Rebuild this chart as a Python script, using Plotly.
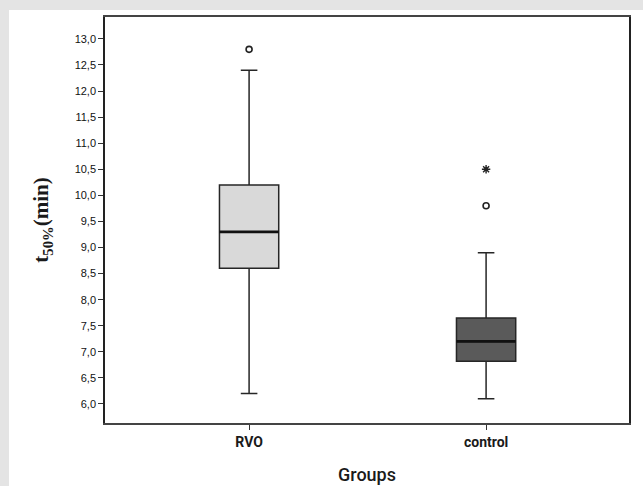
import plotly.graph_objects as go

# ---- data ----
groups = ["RVO", "control"]
q1 = [8.6, 6.82]
median = [9.3, 7.2]
q3 = [10.2, 7.65]
lower_whisker = [6.2, 6.1]
upper_whisker = [12.4, 8.9]
outlier_groups = ["RVO", "control"]      # circles
outlier_values = [12.8, 9.8]
extreme_groups = ["control"]             # asterisks
extreme_values = [10.5]
y_ticks = [6.0, 6.5, 7.0, 7.5, 8.0, 8.5, 9.0, 9.5, 10.0, 10.5, 11.0, 11.5, 12.0, 12.5, 13.0]
box_colors = ["#d9d9d9", "#5a5a5a"]

pos = {g: i + 1 for i, g in enumerate(groups)}
box_w = 0.25

fig = go.Figure()

for i, g in enumerate(groups):
    fig.add_trace(go.Box(
        x=[pos[g]], q1=[q1[i]], median=[median[i]], q3=[q3[i]],
        lowerfence=[lower_whisker[i]], upperfence=[upper_whisker[i]],
        width=box_w, whiskerwidth=0.28, boxpoints=False,
        fillcolor=box_colors[i], line=dict(color="#262626", width=1.5),
        showlegend=False, hoverinfo="skip",
    ))
    # thicker median line
    fig.add_trace(go.Scatter(
        x=[pos[g] - box_w / 2, pos[g] + box_w / 2], y=[median[i], median[i]],
        mode="lines", line=dict(color="#111111", width=2.6),
        showlegend=False, hoverinfo="skip",
    ))

fig.add_trace(go.Scatter(
    x=[pos[g] for g in outlier_groups], y=outlier_values, mode="markers",
    marker=dict(symbol="circle-open", size=6, color="#222222", line=dict(width=1.6)),
    showlegend=False, hoverinfo="skip",
))
fig.add_trace(go.Scatter(
    x=[pos[g] for g in extreme_groups], y=extreme_values, mode="markers",
    marker=dict(symbol="asterisk-open", size=7, color="#222222", line=dict(width=1.4)),
    showlegend=False, hoverinfo="skip",
))

W, H = 643, 486
ml, mr, mt, mb = 105, 14, 17, 63
pw, ph = W - ml - mr, H - mt - mb

# white card on a light grey page
fig.add_shape(type="rect", xref="paper", yref="paper", layer="below",
              x0=(9 - ml) / pw, x1=(W + 5 - ml) / pw,
              y0=-(mb + 5) / ph, y1=1 + (mt - 10) / ph,
              fillcolor="white", line=dict(width=0))

fig.update_layout(
    width=W, height=H,
    margin=dict(l=ml, r=mr, t=mt, b=mb),
    paper_bgcolor="#e4e4e4", plot_bgcolor="white",
    separators=",.",
    font=dict(family="Liberation Sans, Arial", color="#222222"),
)
fig.update_xaxes(
    range=[0.392, 2.603], tickvals=[pos[g] for g in groups], ticktext=groups,
    ticks="outside", ticklen=5, tickcolor="#333", tickwidth=1,
    tickfont=dict(family="Roboto, Liberation Sans", size=14, color="#1a1a1a", weight="bold"),
    showline=True, linecolor="#444", linewidth=1.5, mirror=True,
    showgrid=False, zeroline=False, automargin=False,
    title=dict(text="Groups", font=dict(family="Roboto, Liberation Sans", size=18, color="#1a1a1a", weight=500), standoff=20),
)
fig.update_yaxes(
    range=[5.635, 13.42], tickvals=y_ticks, tickformat=".1f",
    ticks="outside", ticklen=5, tickcolor="#333", tickwidth=1,
    tickfont=dict(family="Liberation Sans, Arial", size=11, color="#111"),
    showline=True, linecolor="#222", linewidth=1.5, mirror=True,
    showgrid=False, zeroline=False, automargin=False,
    title=dict(text="<b>t<sub>50%</sub>(min)</b>",
               font=dict(family="Liberation Serif, Times New Roman", size=21, color="#1a1a1a"), standoff=20),
)

fig.write_html("out.html")
